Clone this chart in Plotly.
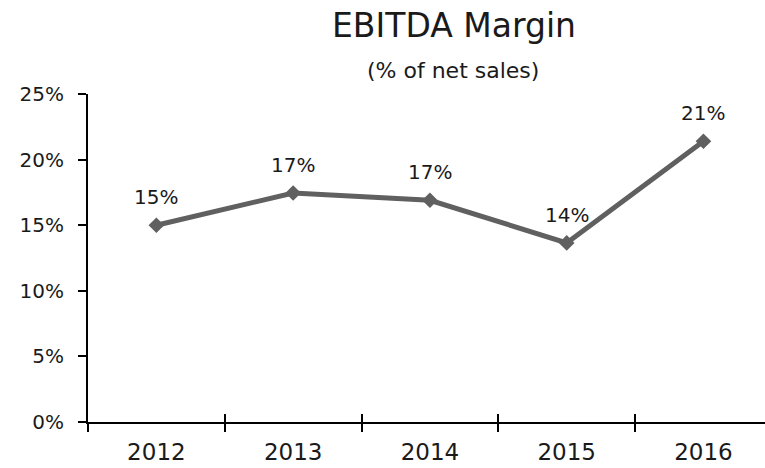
import plotly.graph_objects as go

years = ["2012", "2013", "2014", "2015", "2016"]
margin_pct = [15.0, 17.45, 16.9, 13.65, 21.4]
labels = ["15%", "17%", "17%", "14%", "21%"]
y_ticks = [0, 5, 10, 15, 20, 25]
y_tick_text = ["0%", "5%", "10%", "15%", "20%", "25%"]

FONT = "DejaVu Sans"
TXT = "#1a1a1a"
fig = go.Figure()
fig.add_trace(go.Scatter(
    x=years, y=margin_pct, mode="lines+markers",
    line=dict(color="#606060", width=5),
    marker=dict(symbol="diamond", size=12, color="#606060"),
    cliponaxis=False, showlegend=False,
))
# invisible trace on overlay axis for the crossing tick marks
fig.add_trace(go.Scatter(x=years, y=margin_pct, xaxis="x2", mode="markers",
                         marker=dict(opacity=0), hoverinfo="skip", showlegend=False))

annotations = [dict(x=i, y=v, xref="x", yref="y", text=t, showarrow=False, yshift=28,
                    xanchor="center", yanchor="middle",
                    font=dict(family=FONT, size=20, color=TXT))
               for i, (v, t) in enumerate(zip(margin_pct, labels))]
annotations.append(dict(text="EBITDA Margin", xref="paper", yref="paper",
                        x=0.5406, y=1.21, xanchor="center", yanchor="middle", showarrow=False,
                        font=dict(family=FONT, size=33, color=TXT)))
annotations.append(dict(text="(% of net sales)", xref="paper", yref="paper",
                        x=0.539, y=1.073, xanchor="center", yanchor="middle", showarrow=False,
                        font=dict(family=FONT, size=22, color=TXT)))

fig.update_layout(
    width=765, height=468,
    margin=dict(l=88, r=0, t=94, b=46),
    paper_bgcolor="white", plot_bgcolor="white",
    font=dict(family=FONT, color=TXT),
    annotations=annotations,
    xaxis=dict(type="category", range=[-0.5, 4.45], showgrid=False, showline=True,
               linecolor="black", linewidth=2, ticks="outside", ticklen=8, tickwidth=2,
               tickcolor="black", tickson="boundaries", ticklabelstandoff=8,
               tickfont=dict(family=FONT, size=23, color=TXT)),
    xaxis2=dict(type="category", overlaying="x", matches="x", range=[-0.5, 4.45],
                showgrid=False, showline=False, ticks="inside", ticklen=8, tickwidth=2,
                tickcolor="black", tickson="boundaries", showticklabels=False, side="bottom"),
    yaxis=dict(range=[0, 25], tickvals=y_ticks, ticktext=y_tick_text, showgrid=False,
               showline=True, linecolor="black", linewidth=2, ticks="outside",
               ticklen=8, tickwidth=2, tickcolor="black", zeroline=False,
               ticklabelstandoff=10,
               tickfont=dict(family=FONT, size=20, color=TXT)),
)
fig.write_html("out.html", config={"displayModeBar": False},
               post_script="document.body.style.margin='0';")
